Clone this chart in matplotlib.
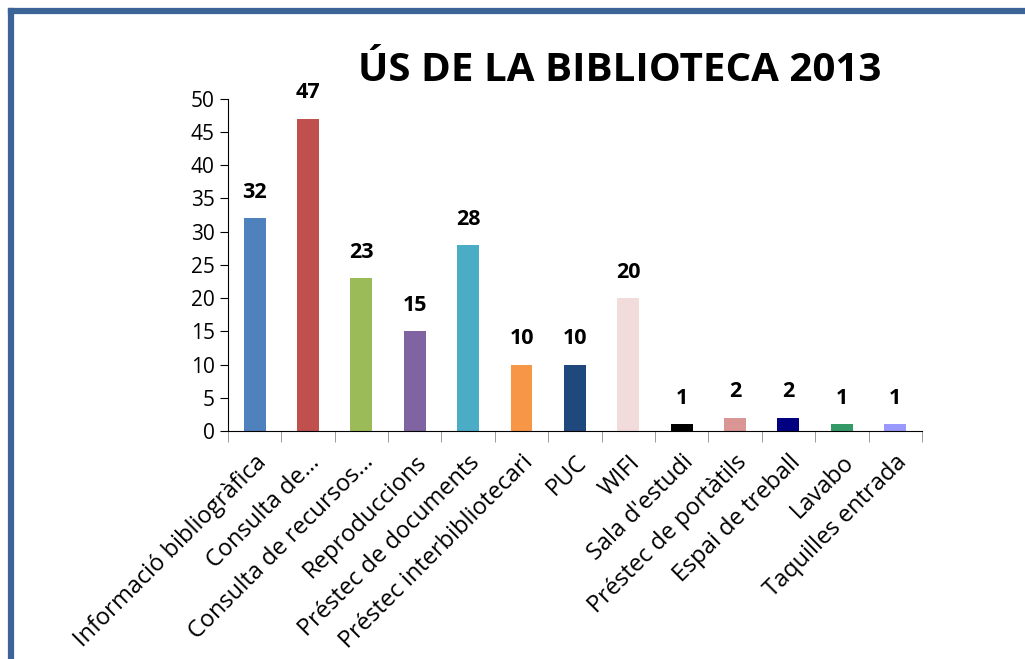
import matplotlib.pyplot as plt
from matplotlib.lines import Line2D

categories = ["Informació bibliogràfica", "Consulta de…", "Consulta de recursos…",
              "Reproduccions", "Préstec de documents", "Préstec interbibliotecari",
              "PUC", "WIFI", "Sala d'estudi", "Préstec de portàtils",
              "Espai de treball", "Lavabo", "Taquilles entrada"]
values = [32, 47, 23, 15, 28, 10, 10, 20, 1, 2, 2, 1, 1]
colors = ["#4F81BD", "#C0504D", "#9BBB59", "#8064A2", "#4BACC6", "#F79646",
          "#1F497D", "#F2DCDB", "#000000", "#D99694", "#000080", "#339966", "#9999FF"]

plt.rcParams["font.family"] = ["Open Sans", "DejaVu Sans"]

fig = plt.figure(figsize=(10.25, 6.59), dpi=100)
ax = fig.add_axes([0.2224, 0.346, 0.677, 0.504])

x = list(range(len(values)))
ax.bar(x, values, width=0.41, color=colors)
for xi, v in zip(x, values):
    ax.text(xi, v + 2.3, str(v), ha="center", va="bottom", fontsize=15.5, fontweight="bold")

ax.set_xlim(-0.5, len(values) - 0.5)
ax.set_ylim(0, 50)
ax.set_yticks(range(0, 51, 5))
ax.tick_params(axis="y", labelsize=15, length=6, direction="out")
ax.set_xticks(x)
ax.set_xticklabels(categories, rotation=45, ha="right", rotation_mode="anchor", fontsize=17)
ax.tick_params(axis="x", length=0, pad=14)
ax.set_xticks([i - 0.5 for i in range(len(values) + 1)], minor=True)
ax.tick_params(axis="x", which="minor", length=8, color="#888888")
ax.spines["top"].set_visible(False)
ax.spines["right"].set_visible(False)

fig.text(0.605, 0.893, "ÚS DE LA BIBLIOTECA 2013", ha="center", va="center",
         fontsize=29, fontweight="bold")

# blue frame on left and top
fig.add_artist(Line2D([0.0107, 0.0107], [0, 0.983], color="#3C6496", lw=4.5))
fig.add_artist(Line2D([0.0107, 1.0], [0.983, 0.983], color="#3C6496", lw=4.5))

fig.savefig("out.png", dpi=100)
